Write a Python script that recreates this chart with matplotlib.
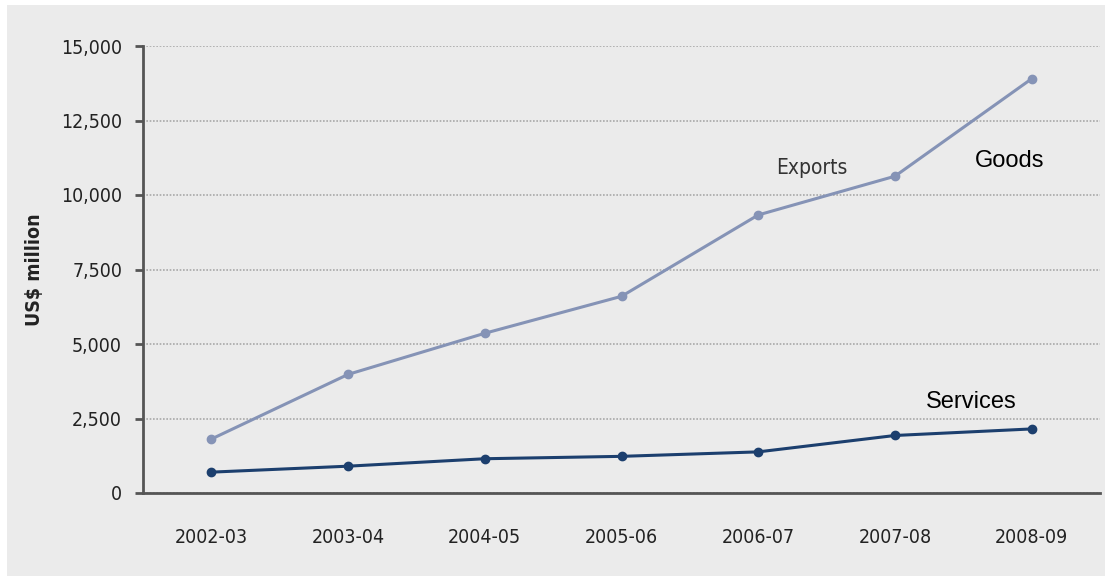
import matplotlib
matplotlib.use("Agg")
import matplotlib.pyplot as plt
from matplotlib.patches import Rectangle

years = ["2002-03", "2003-04", "2004-05", "2005-06", "2006-07", "2007-08", "2008-09"]
goods = [1810, 3980, 5360, 6600, 9330, 10630, 13900]
services = [700, 900, 1150, 1230, 1380, 1930, 2150]
yticks = [0, 2500, 5000, 7500, 10000, 12500, 15000]
ytick_labels = ["0", "2,500", "5,000", "7,500", "10,000", "12,500", "15,000"]

cond = dict(fontfamily="DejaVu Sans", fontstretch="condensed")

W, H = 1105, 576
fig = plt.figure(figsize=(W / 100, H / 100), dpi=100, facecolor="white")
bg = Rectangle((7 / W, 0), 1 - 7 / W, 1 - 5 / H, transform=fig.transFigure,
               facecolor="#ebebeb", edgecolor="none", zorder=-10)
fig.add_artist(bg)

ax = fig.add_axes([143 / W, 1 - 493 / H, (1100 - 143) / W, (493 - 46) / H])
ax.set_facecolor("none")
x = list(range(len(years)))
ax.plot(x, goods, color="#8593b6", lw=2.2, marker="o", ms=6, zorder=3)
ax.plot(x, services, color="#1c3f6e", lw=2.2, marker="o", ms=6, zorder=3)

ax.set_xlim(-0.5, 6.5)
ax.set_ylim(0, 15000)
ax.set_yticks(yticks)
ax.set_yticklabels(ytick_labels, fontsize=14, color="#222222", **cond)
ax.set_xticks(x)
ax.set_xticklabels(years, fontsize=14, color="#222222", **cond)
ax.tick_params(axis="y", length=6, width=2, color="#555555", pad=9)
ax.tick_params(axis="x", length=0, pad=25)
for s in ["top", "right"]:
    ax.spines[s].set_visible(False)
for s in ["left", "bottom"]:
    ax.spines[s].set_color("#555555")
    ax.spines[s].set_linewidth(2)
ax.yaxis.grid(True, linestyle=(0, (1, 1)), color="#a8a8a8", lw=1.2)
ax.set_axisbelow(True)

ax.set_ylabel("US$ million", fontsize=14, fontweight="bold", color="#222222",
              labelpad=12, **cond)

ax.text(4.39, 10900, "Exports", fontsize=15, color="#333333",
        ha="center", va="center", **cond)
ax.text(5.84, 11150, "Goods", fontfamily="Liberation Sans", fontsize=17, color="black",
        ha="center", va="center")
ax.text(5.56, 3070, "Services", fontfamily="Liberation Sans", fontsize=17, color="black",
        ha="center", va="center")

fig.savefig("out.png", dpi=100, facecolor=fig.get_facecolor())
